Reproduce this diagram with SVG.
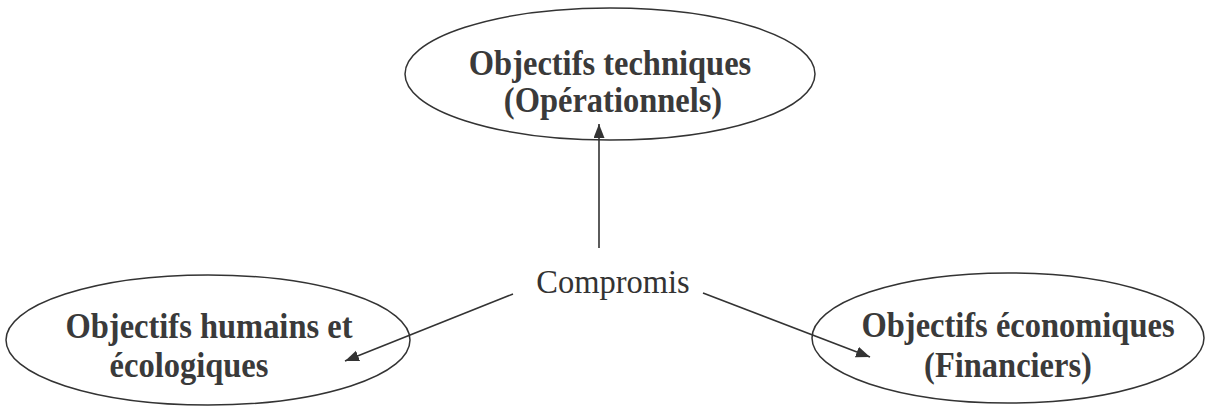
<svg xmlns="http://www.w3.org/2000/svg" width="1205" height="406" viewBox="0 0 1205 406">
<style>
.node ellipse{fill:none;stroke:#333;stroke-width:1.5}
.t{font-family:"Liberation Serif","Times New Roman",serif;font-size:32.5px;font-weight:bold;fill:#3a3a3a;text-anchor:middle}
.c{font-family:"Liberation Serif","Times New Roman",serif;font-size:32.5px;fill:#333;text-anchor:middle}
.edge{stroke:#333;stroke-width:1.6;fill:none;marker-end:url(#ah)}
</style>
<defs>
<marker id="ah" markerUnits="userSpaceOnUse" markerWidth="16" markerHeight="12" refX="14" refY="5.5" orient="auto">
<path d="M0,0 L14,5.5 L0,11 Z" fill="#333"/>
</marker>
</defs>
<rect width="1205" height="406" fill="#fff"/>
<g id="node-techniques" class="node">
<ellipse cx="610" cy="74" rx="205" ry="66"/>
<text class="t" transform="translate(610,75) scale(1,1.13)">Objectifs techniques</text>
<text class="t" transform="translate(613,112) scale(1,1.13)">(Opérationnels)</text>
</g>
<g id="node-compromis">
<text class="c" transform="translate(613,293) scale(1,1.05)">Compromis</text>
</g>
<g id="node-humains" class="node">
<ellipse cx="208" cy="340" rx="202" ry="65"/>
<text class="t" transform="translate(209,338) scale(1,1.13)">Objectifs humains et</text>
<text class="t" transform="translate(189,377) scale(1,1.13)">écologiques</text>
</g>
<g id="node-economiques" class="node">
<ellipse cx="1008" cy="338" rx="196" ry="65"/>
<text class="t" transform="translate(1018,337) scale(1,1.13)">Objectifs économiques</text>
<text class="t" transform="translate(1008,377) scale(1,1.13)">(Financiers)</text>
</g>
<g id="connectors">
<path class="edge" d="M599,248 L599,124"/>
<path class="edge" d="M513,294 L345,361"/>
<path class="edge" d="M703,293 L870,357"/>
</g>
</svg>
